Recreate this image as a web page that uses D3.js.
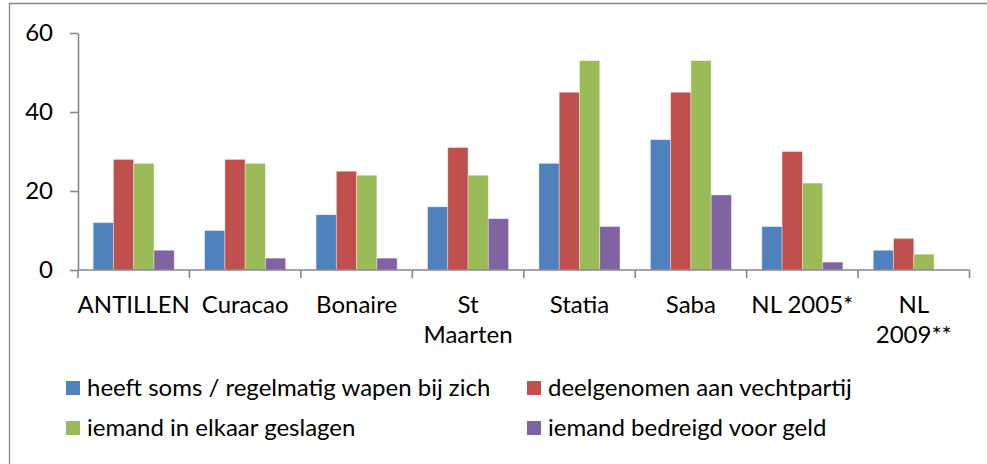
<!DOCTYPE html>
<html>
<head>
<meta charset="utf-8">
<script src="https://cdn.jsdelivr.net/npm/d3@7"></script>
<style>
  html, body { margin: 0; padding: 0; background: #fff; }
  svg { display: block; font-family: Lato, "Open Sans", sans-serif; }
</style>
</head>
<body>
<svg id="chart" width="987" height="464"></svg>
<script>
const categories = ["ANTILLEN", "Curacao", "Bonaire", "St Maarten", "Statia", "Saba", "NL 2005*", "NL 2009**"];
const categoryLines = [["ANTILLEN"], ["Curacao"], ["Bonaire"], ["St", "Maarten"], ["Statia"], ["Saba"], ["NL 2005*"], ["NL", "2009**"]];
const seriesNames = ["heeft soms / regelmatig wapen bij zich", "deelgenomen aan vechtpartij", "iemand in elkaar geslagen", "iemand bedreigd voor geld"];
const wapen     = [12, 10, 14, 16, 27, 33, 11, 5];
const vechtpartij = [28, 28, 25, 31, 45, 45, 30, 8];
const geslagen  = [27, 27, 24, 24, 53, 53, 22, 4];
const bedreigd  = [5, 3, 3, 13, 11, 19, 2, 0];
const yTicks = [0, 20, 40, 60];
const colors = ["#4F81BD", "#C0504D", "#9BBB59", "#8064A2"];

const seriesValues = [wapen, vechtpartij, geslagen, bedreigd];
const svg = d3.select("#chart");
const FONT = "24px";

// outer chart border (only left and top visible)
svg.append("path")
  .attr("d", "M9.5,470V3.5H995")
  .attr("fill", "none").attr("stroke", "#868686").attr("stroke-width", 1.3);

const x0 = d3.scaleBand().domain(categories).range([78, 969.5]).paddingInner(0).paddingOuter(0);
const x1 = d3.scaleBand().domain(d3.range(seriesNames.length)).range([0, x0.bandwidth()]).paddingInner(0).paddingOuter(0.75);
const y = d3.scaleLinear().domain([0, 60]).range([270, 33]);

// bars
const groups = svg.append("g").selectAll("g").data(categories).join("g")
  .attr("transform", d => `translate(${x0(d)},0)`);
groups.selectAll("rect")
  .data((c, ci) => seriesValues.map((vals, si) => ({ si, v: vals[ci] })))
  .join("rect")
  .attr("x", d => x1(d.si))
  .attr("width", x1.bandwidth())
  .attr("y", d => y(d.v))
  .attr("height", d => y(0) - y(d.v))
  .attr("fill", d => colors[d.si])
  .attr("stroke", d => d.v > 0 ? "rgba(255,255,255,0.45)" : "none")
  .attr("stroke-width", 0.8);

// y axis
const yAxis = d3.axisLeft(y).tickValues(yTicks).tickSize(8).tickPadding(17).tickSizeOuter(0);
const gy = svg.append("g").attr("transform", "translate(78,0)").call(yAxis);
gy.select(".domain").attr("stroke", "#868686").attr("stroke-width", 1.6);
gy.selectAll(".tick line").attr("stroke", "#868686").attr("stroke-width", 1.6);
gy.selectAll(".tick text").attr("font-size", FONT).attr("fill", "#000")
  .attr("font-family", "Lato, 'Open Sans', sans-serif");

// x axis
const xEdges = categories.map(c => x0(c)).concat([x0(categories[categories.length - 1]) + x0.bandwidth()]);
const gx = svg.append("g");
gx.append("line").attr("x1", 78).attr("x2", xEdges[xEdges.length - 1])
  .attr("y1", y(0)).attr("y2", y(0)).attr("stroke", "#868686").attr("stroke-width", 1.6);
gx.selectAll("line.tick").data(xEdges).join("line").attr("class", "tick")
  .attr("x1", d => d).attr("x2", d => d).attr("y1", y(0)).attr("y2", y(0) + 8)
  .attr("stroke", "#868686").attr("stroke-width", 1.6);
gx.selectAll("text").data(categories).join("text")
  .attr("x", d => x0(d) + x0.bandwidth() / 2)
  .attr("y", 313)
  .attr("text-anchor", "middle")
  .attr("font-size", FONT)
  .attr("fill", "#000")
  .each(function (d, i) {
    d3.select(this).selectAll("tspan").data(categoryLines[i]).join("tspan")
      .attr("x", x0(d) + x0.bandwidth() / 2)
      .attr("dy", (l, j) => j === 0 ? 0 : 30)
      .text(l => l);
  });

// legend
const legendPos = [[66, 388], [527, 388], [66, 428], [527, 428]];
const lg = svg.append("g").selectAll("g").data(seriesNames).join("g")
  .attr("transform", (d, i) => `translate(${legendPos[i][0]},${legendPos[i][1]})`);
lg.append("rect").attr("x", 0).attr("y", -7).attr("width", 14).attr("height", 14)
  .attr("fill", (d, i) => colors[i]);
lg.append("text").attr("x", 21).attr("y", 7.5).attr("font-size", FONT).attr("fill", "#000")
  .text(d => d);
</script>
</body>
</html>
